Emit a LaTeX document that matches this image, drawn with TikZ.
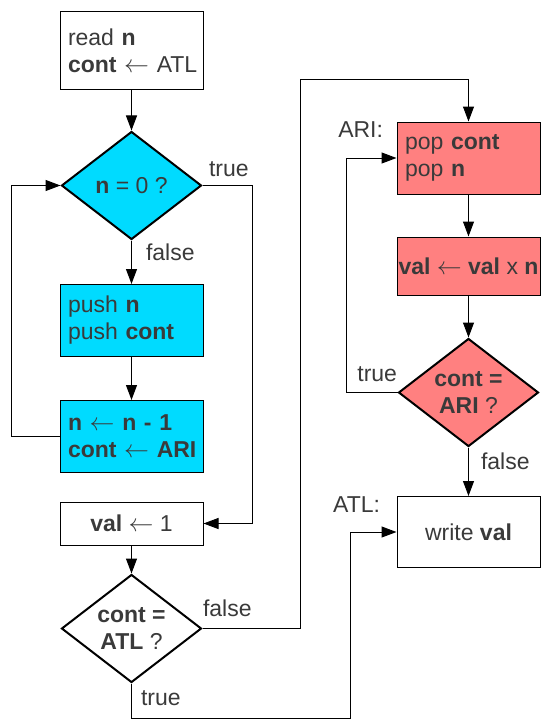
\documentclass[tikz,border=0pt]{standalone}
\usepackage{fontspec}
\setmainfont{Liberation Sans}
\usetikzlibrary{arrows.meta,shapes.geometric}
\definecolor{boxcyan}{HTML}{00DBFF}
\definecolor{boxred}{HTML}{FF8080}
\definecolor{txtgray}{HTML}{3A3A3A}

\begin{document}
\begin{tikzpicture}[->,>={Triangle[length=15pt,width=11pt]},x=1pt,y=1pt,line width=1pt,
    node distance=135pt,font=\fontsize{23}{27}\selectfont,text=txtgray]
  \tikzstyle{box}=[draw=black,line width=1pt,minimum width=143pt,inner ysep=0pt]
  \tikzstyle{lbox}=[box,inner xsep=8pt,text width=127pt,align=left]
  \tikzstyle{cbox}=[box,inner xsep=0pt,align=center]
  \tikzstyle{test}=[diamond,draw=black,line width=2pt,aspect=1.3,inner sep=0pt,
    minimum width=140pt,minimum height=108pt,align=center]
  \tikzstyle{lbl}=[inner sep=0pt]

  \useasboundingbox (0,0) rectangle (553,-725);

  % left column
  \node[lbox,minimum height=77pt] (read) at (131.5,-50.5) {read~\textbf{n}\\\textbf{cont}~$\leftarrow$~ATL};
  \node[test,fill=boxcyan] (zero) [below of=read] {\textbf{n} = 0 ?};
  \node[lbox,fill=boxcyan,minimum height=72pt] (push) [below of=zero] {push~\textbf{n}\\push~\textbf{cont}};
  \node[lbox,fill=boxcyan,minimum height=72pt,node distance=116pt] (dec) [below of=push]
    {\textbf{n~$\leftarrow$~n~-~1}\\\textbf{cont~$\leftarrow$~ARI}};
  \node[cbox,minimum height=43pt,node distance=87pt] (one) [below of=dec] {\textbf{val} $\leftarrow$ 1};
  \node[test,fill=white,node distance=105pt] (atl) [below of=one] {\textbf{cont =}\\\textbf{ATL} ?};

  % right column
  \node[lbox,fill=boxred,minimum height=72pt] (pop) at (468.5,-158) {pop~\textbf{cont}\\pop~\textbf{n}};
  \node[cbox,fill=boxred,minimum height=58pt,node distance=108pt] (mul) [below of=pop]
    {\textbf{val} $\leftarrow$ \textbf{val} x \textbf{n}};
  \node[test,fill=boxred,node distance=126.5pt] (ari) [below of=mul] {\textbf{cont =}\\\textbf{ARI} ?};
  \node[cbox,minimum height=71pt,node distance=139.5pt] (write) [below of=ari] {write \textbf{val}};

  \node[lbl,anchor=north east] at ([xshift=-13pt]pop.north west) {ARI:};
  \node[lbl,anchor=north east] at ([xshift=-16pt]write.north west) {ATL:};

  % connectors
  \draw (read) -- (zero);
  \draw (zero.south) node[lbl,anchor=north west,xshift=14pt,yshift=-3pt] {false} -- (push);
  \draw (push) -- (dec);
  \draw (dec.west) -- ++(-48,0) |- (zero.west);
  \draw (zero.east) node[lbl,anchor=south west,xshift=6pt,yshift=8pt] {true} -- ++(50,0) |- (one.east);
  \draw (one) -- (atl);
  \draw (atl.east) node[lbl,anchor=south west,yshift=11pt] {false} -- ++(98,0) |- ([yshift=42pt]pop.north) -- (pop);
  \draw (atl.south) node[lbl,anchor=north west,xshift=9pt,yshift=-7pt] {true} -- ++(0,-35) -- ++(218.5,0) |- (write.west);
  \draw (pop) -- (mul);
  \draw (mul) -- (ari);
  \draw (ari.west) node[lbl,anchor=south east,yshift=10pt] {true} -- ++(-51,0) |- (pop.west);
  \draw (ari.south) node[lbl,anchor=north west,xshift=12pt,yshift=-5pt] {false} -- (write);
\end{tikzpicture}
\end{document}
